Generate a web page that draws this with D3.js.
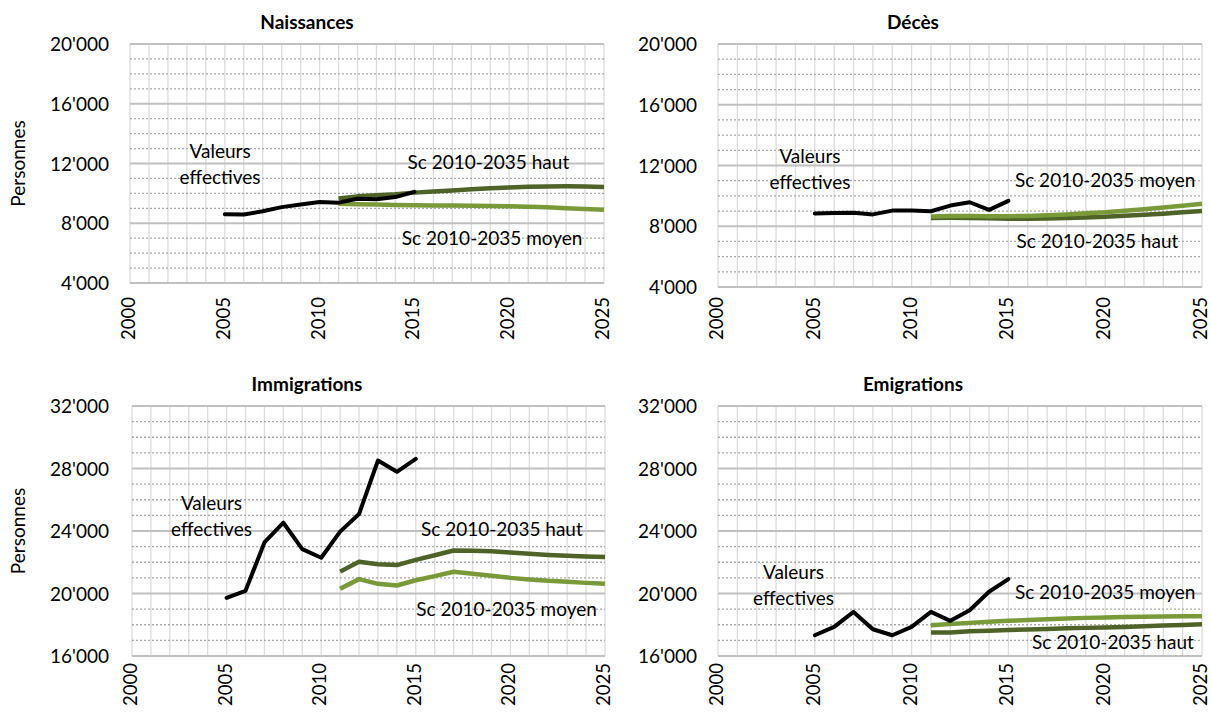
<!DOCTYPE html>
<html><head><meta charset="utf-8">
<script src="https://cdn.jsdelivr.net/npm/d3@7"></script>
<style>
body{margin:0;background:#fff;}
svg{display:block;font-family:Lato,"Open Sans",sans-serif;}
</style></head>
<body><svg id="c" width="1211" height="712"></svg>
<script>
const yearsEff = [2005,2006,2007,2008,2009,2010,2011,2012,2013,2014,2015];
const yearsProj = [2011,2012,2013,2014,2015,2016,2017,2018,2019,2020,2021,2022,2023,2024,2025];

const naissancesEff = [8600,8580,8800,9080,9250,9420,9380,9640,9600,9750,10100];
const naissancesHaut = [9650,9800,9880,9950,10050,10120,10200,10270,10340,10400,10440,10460,10470,10460,10430];
const naissancesMoyen = [9300,9270,9250,9230,9210,9190,9180,9170,9160,9140,9110,9070,9010,8950,8900];

const decesEff = [8835,8870,8890,8780,9030,9030,8990,9360,9580,9080,9670];
const decesHaut = [8550,8560,8550,8520,8500,8490,8510,8540,8580,8630,8690,8750,8830,8920,9000];
const decesMoyen = [8650,8670,8670,8660,8660,8680,8720,8780,8850,8920,9020,9120,9230,9350,9480];

const immigrationsEff = [19720,20170,23270,24530,22840,22290,23960,25090,28510,27790,28620];
const immigrationsHaut = [21400,22030,21870,21820,22150,22450,22750,22740,22700,22620,22540,22470,22420,22370,22330];
const immigrationsMoyen = [20300,20920,20620,20510,20850,21110,21390,21260,21130,21000,20900,20810,20750,20680,20620];

const emigrationsEff = [17330,17860,18820,17710,17330,17860,18820,18250,18930,20110,20920];
const emigrationsHaut = [17500,17510,17580,17620,17660,17700,17730,17770,17800,17830,17860,17900,17950,17990,18030];
const emigrationsMoyen = [17970,18050,18120,18190,18250,18300,18350,18400,18440,18470,18500,18510,18530,18540,18550];

const xTickLabels = [2000,2005,2010,2015,2020,2025];
const yTicksTop = [4000,8000,12000,16000,20000];
const yTicksBottom = [16000,20000,24000,28000,32000];

const titles = ["Naissances","Décès","Immigrations","Emigrations"];
const labelEff = ["Valeurs","effectives"];
const labelHaut = "Sc 2010-2035 haut";
const labelMoyen = "Sc 2010-2035 moyen";
const yAxisTitle = "Personnes";

const colBlack = "#000000";
const colHaut = "#4f6228";
const colMoyen = "#7a9a3a";

const panels = [
  {title:titles[0], box:[130,604,44,283], yDom:[4000,20000], yTicks:yTicksTop, eff:naissancesEff, haut:naissancesHaut, moyen:naissancesMoyen,
   lEff:[2004.75,12370], lHaut:[2018.9,11630], lMoyen:[2019.1,6550], titleX:307, titleY:29, axisTitle:true, labRight:109, xOff:14},
  {title:titles[1], box:[718,1202,44,287], yDom:[4000,20000], yTicks:yTicksTop, eff:decesEff, haut:decesHaut, moyen:decesMoyen,
   lEff:[2004.75,12170], lHaut:[2019.6,6570], lMoyen:[2020,10590], titleX:913, titleY:29, axisTitle:false, labRight:697, xOff:10},
  {title:titles[2], box:[132,605,406,656], yDom:[16000,32000], yTicks:yTicksBottom, eff:immigrationsEff, haut:immigrationsHaut, moyen:immigrationsMoyen,
   lEff:[2004.2,25340], lHaut:[2019.55,23680], lMoyen:[2019.8,18560], titleX:307, titleY:391, axisTitle:true, labRight:109, xOff:7},
  {title:titles[3], box:[718,1202,406,656], yDom:[16000,32000], yTicks:yTicksBottom, eff:emigrationsEff, haut:emigrationsHaut, moyen:emigrationsMoyen,
   lEff:[2003.9,20930], lHaut:[2020.4,16450], lMoyen:[2020,19650], titleX:913, titleY:391, axisTitle:false, labRight:697, xOff:7}
];

const loc = d3.formatLocale({decimal:".", thousands:"'", grouping:[3], currency:["",""]});
const fmt = loc.format(",d");
const FS = 19;

const svg = d3.select("#c");

panels.forEach(p => {
  const [x0,x1,y0,y1] = p.box;
  const x = d3.scaleLinear().domain([2000,2025]).range([x0,x1]);
  const y = d3.scaleLinear().domain(p.yDom).range([y1,y0]);
  const g = svg.append("g");

  // vertical year gridlines
  g.selectAll(".vg").data(d3.range(2000,2026)).join("line")
    .attr("x1",d=>x(d)).attr("x2",d=>x(d)).attr("y1",y0).attr("y2",y1)
    .attr("stroke","#dcdcdc").attr("stroke-width",1.3);
  // minor horizontal dotted
  const minor = d3.range(p.yDom[0],p.yDom[1]+1,1000).filter(v=>v%4000!==0);
  g.selectAll(".mg").data(minor).join("line")
    .attr("x1",x0).attr("x2",x1).attr("y1",d=>y(d)).attr("y2",d=>y(d))
    .attr("stroke","#a8a8a8").attr("stroke-width",1.3).attr("stroke-dasharray","2,2");
  // major horizontal
  g.selectAll(".Mg").data(p.yTicks).join("line")
    .attr("x1",x0).attr("x2",x1).attr("y1",d=>y(d)).attr("y2",d=>y(d))
    .attr("stroke","#c0c0c0").attr("stroke-width",2);

  // y axis labels
  const ya = d3.axisLeft(y).tickValues(p.yTicks).tickFormat(fmt).tickSize(0).tickPadding(x0-p.labRight);
  const yg = g.append("g").attr("transform",`translate(${x0},0)`).call(ya);
  yg.select(".domain").remove();
  yg.selectAll("text").attr("font-size",FS).attr("font-family","Lato").attr("fill","#000").attr("dy","0.35em");

  // x axis labels
  const xa = d3.axisBottom(x).tickValues(xTickLabels).tickFormat(d3.format("d")).tickSize(0);
  const xg = g.append("g").attr("transform",`translate(0,${y1})`).call(xa);
  xg.select(".domain").remove();
  xg.selectAll("text").attr("font-size",18.5).attr("font-family","Lato").attr("fill","#000")
    .attr("transform","rotate(-90)").attr("text-anchor","end").attr("x",-p.xOff).attr("y",-1).attr("dy","0.3em");

  // lines
  const line = d3.line().x(d=>x(d[0])).y(d=>y(d[1]));
  g.append("path").datum(yearsProj.map((yr,i)=>[yr,p.haut[i]])).attr("d",line)
    .attr("fill","none").attr("stroke",colHaut).attr("stroke-width",4.5).attr("stroke-linejoin","round");
  g.append("path").datum(yearsProj.map((yr,i)=>[yr,p.moyen[i]])).attr("d",line)
    .attr("fill","none").attr("stroke",colMoyen).attr("stroke-width",4.5).attr("stroke-linejoin","round");
  g.append("path").datum(yearsEff.map((yr,i)=>[yr,p.eff[i]])).attr("d",line)
    .attr("fill","none").attr("stroke",colBlack).attr("stroke-width",4).attr("stroke-linejoin","round").attr("stroke-linecap","round");

  // annotations
  const te = g.append("text").attr("x",x(p.lEff[0])).attr("y",y(p.lEff[1]))
    .attr("text-anchor","middle").attr("font-size",FS);
  te.append("tspan").attr("x",x(p.lEff[0])).text(labelEff[0]);
  te.append("tspan").attr("x",x(p.lEff[0])).attr("dy",26).text(labelEff[1]);
  g.append("text").attr("x",x(p.lHaut[0])).attr("y",y(p.lHaut[1])).attr("text-anchor","middle").attr("font-size",FS).text(labelHaut);
  g.append("text").attr("x",x(p.lMoyen[0])).attr("y",y(p.lMoyen[1])).attr("text-anchor","middle").attr("font-size",FS).text(labelMoyen);

  // title
  g.append("text").attr("x",p.titleX).attr("y",p.titleY).attr("text-anchor","middle")
    .attr("font-size",FS).attr("font-weight","bold").text(p.title);

  if (p.axisTitle) {
    g.append("text").attr("transform",`translate(25,${(y0+y1)/2}) rotate(-90)`)
      .attr("text-anchor","middle").attr("font-size",FS).text(yAxisTitle);
  }
});
</script></body></html>
